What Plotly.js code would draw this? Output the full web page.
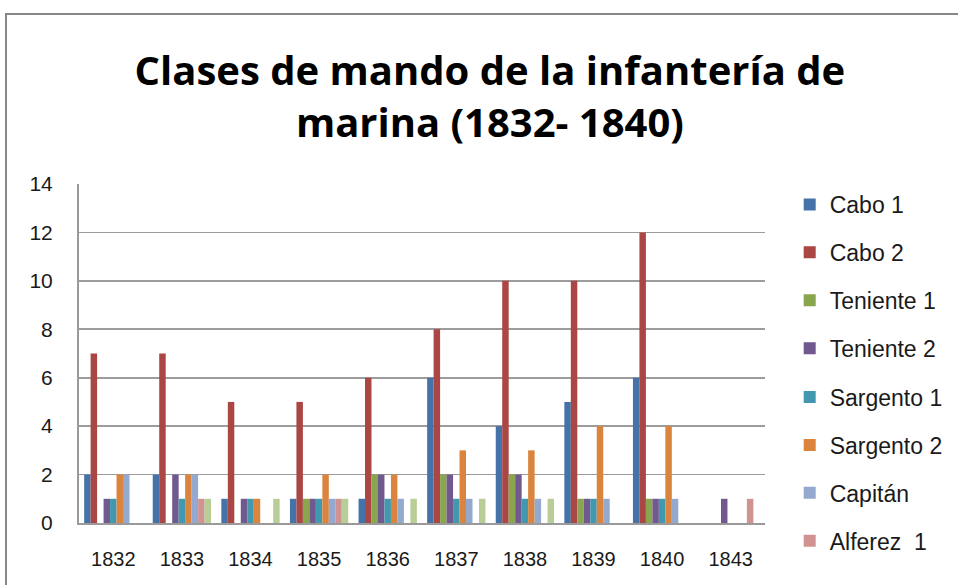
<!DOCTYPE html>
<html>
<head>
<meta charset="utf-8">
<script src="https://cdn.plot.ly/plotly-3.0.1.min.js"></script>
<style>
  html, body { margin: 0; padding: 0; width: 958px; height: 585px; overflow: hidden; background: #fff; }
  #frame { position: absolute; left: 5px; top: 13px; width: 960px; height: 580px; border: 2px solid #878787; }
  #chart { width: 960px; height: 580px; }
</style>
</head>
<body>
<div id="frame"><div id="chart"></div></div>
<script>
const years = ['1832','1833','1834','1835','1836','1837','1838','1839','1840','1843'];

const cabo1      = [2, 2, 1, 1, 1, 6, 4, 5, 6, 0];
const cabo2      = [7, 7, 5, 5, 6, 8, 10, 10, 12, 0];
const teniente1  = [0, 0, 0, 1, 2, 2, 2, 1, 1, 0];
const teniente2  = [1, 2, 1, 1, 2, 2, 2, 1, 1, 1];
const sargento1  = [1, 1, 1, 1, 1, 1, 1, 1, 1, 0];
const sargento2  = [2, 2, 1, 2, 2, 3, 3, 4, 4, 0];
const capitan    = [2, 2, 0, 1, 1, 1, 1, 1, 1, 0];
const alferez1   = [0, 1, 0, 1, 0, 0, 0, 0, 0, 1];
const alferez2   = [0, 1, 1, 1, 1, 1, 1, 0, 0, 0];

const seriesNames = ['Cabo 1','Cabo 2','Teniente 1','Teniente 2','Sargento 1','Sargento 2','Capitán','Alferez  1','Alferez 2'];
const seriesData = [cabo1, cabo2, teniente1, teniente2, sargento1, sargento2, capitan, alferez1, alferez2];
const colors = ['#4572A7','#AA4643','#89A54E','#71588F','#4198AF','#DB843D','#93A9CF','#D19392','#B9CD96'];

const traces = seriesNames.map((n, i) => ({
  type: 'bar',
  name: n,
  x: years,
  y: seriesData[i],
  marker: { color: colors[i], line: { width: 0 } },
  legend: i < 4 ? 'legend' : 'legend2',
  legendgroup: 'g' + i,
  showlegend: i < 8,
  hoverinfo: 'x+y+name'
}));

const font = "'Liberation Sans', Arial, sans-serif";

const legendBase = {
  x: 1.036, xanchor: 'left',
  yanchor: 'top',
  xref: 'paper', yref: 'paper',
  traceorder: 'grouped',
  tracegroupgap: 15,
  font: { family: font, size: 23, color: '#1a1a1a' },
  bgcolor: 'rgba(0,0,0,0)',
  itemwidth: 30
};

const layout = {
  width: 960,
  height: 580,
  margin: { l: 72, r: 202, t: 169, b: 72 },
  paper_bgcolor: '#ffffff',
  plot_bgcolor: '#ffffff',
  barmode: 'group',
  bargap: 0.15,
  bargroupgap: 0,
  title: {
    text: 'Clases de mando de la infantería de<br>marina (1832- 1840)',
    font: { family: "'Open Sans', sans-serif", size: 40, color: '#000', weight: 'bold' },
    x: 0.503, xanchor: 'center', xref: 'container',
    y: 0.88, yanchor: 'top', yref: 'container'
  },
  xaxis: {
    type: 'category',
    showgrid: false,
    showline: true,
    linecolor: '#9a9a9a',
    linewidth: 2,
    ticks: '',
    ticklabelstandoff: 17,
    tickfont: { family: font, size: 20, color: '#1a1a1a' },
    fixedrange: true
  },
  yaxis: {
    range: [0, 14],
    dtick: 2,
    showgrid: true,
    gridcolor: '#9c9c9c',
    gridwidth: 1.6,
    showline: true,
    linecolor: '#9a9a9a',
    linewidth: 2,
    zeroline: false,
    ticks: '',
    ticklabelstandoff: 20,
    tickfont: { family: font, size: 21, color: '#1a1a1a' },
    fixedrange: true
  },
  legend: Object.assign({}, legendBase, { y: 1.003 }),
  legend2: Object.assign({}, legendBase, { y: 0.435 }),
  showlegend: true
};

Plotly.newPlot('chart', traces, layout, { displayModeBar: false, staticPlot: true });
</script>
</body>
</html>
